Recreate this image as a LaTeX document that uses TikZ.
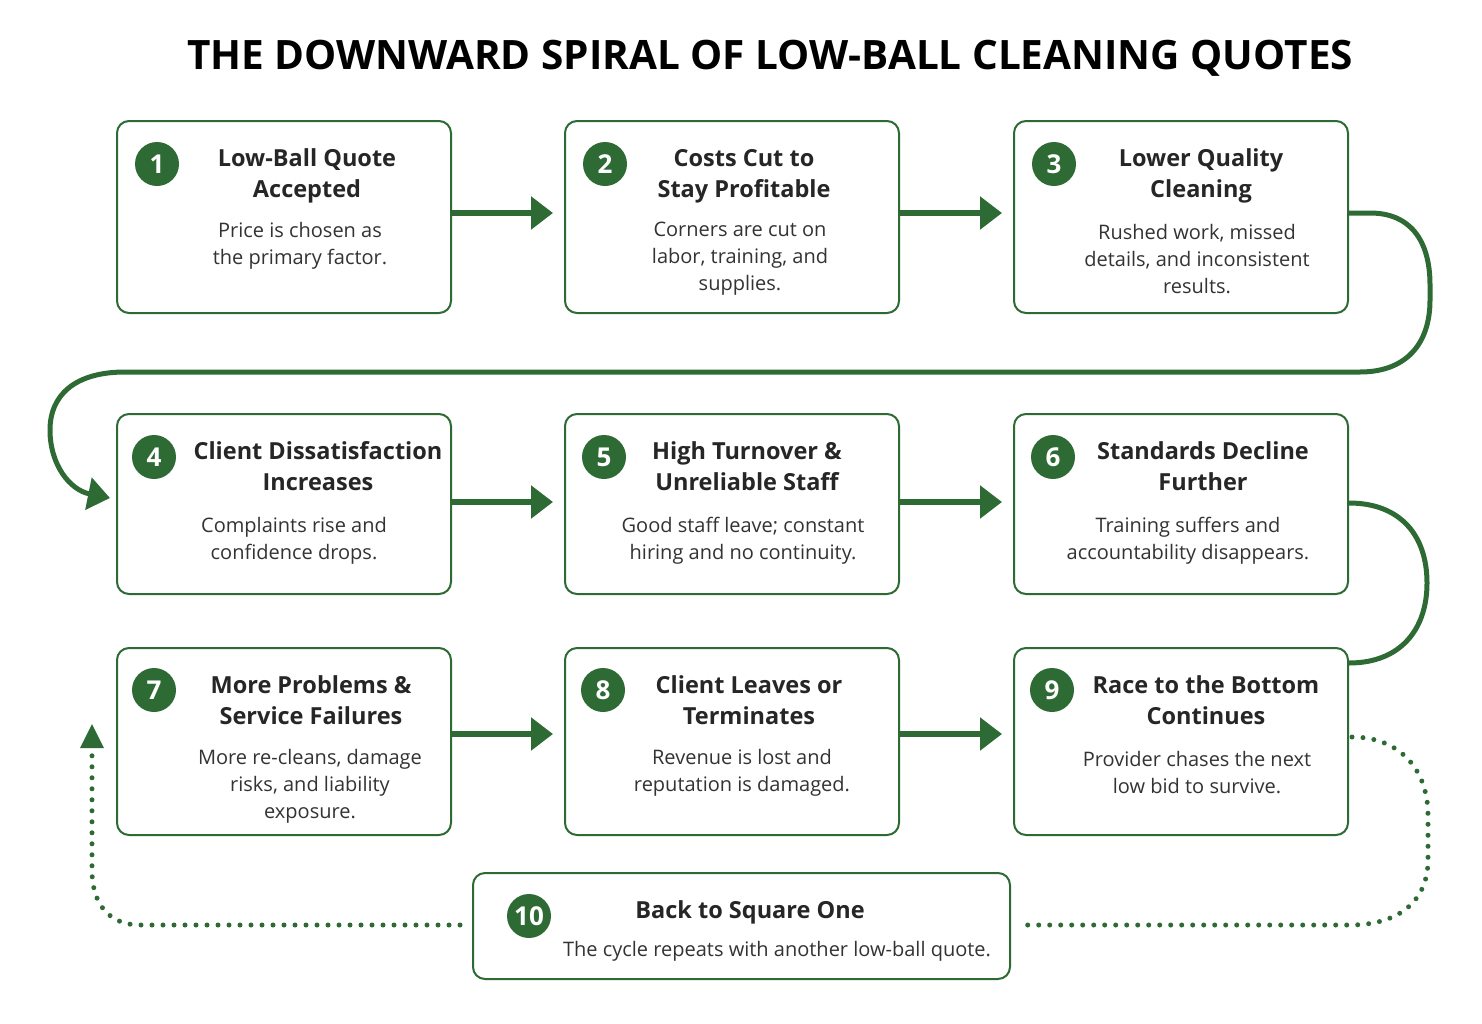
\documentclass[tikz,border=0pt]{standalone}
\usepackage{fontspec}
\setmainfont{Open Sans}
\usetikzlibrary{arrows.meta}
\definecolor{g}{HTML}{2E6B34}
\begin{document}
\begin{tikzpicture}[x=1pt,y=-1pt,
 box/.style={draw=g,line width=2pt,rounded corners=12pt,fill=white},
 num/.style={circle,fill=g,minimum size=44pt,inner sep=0pt,text=white,font=\fontsize{26}{26}\selectfont\bfseries},
 hd/.style={align=center,font=\fontsize{23.5}{31}\selectfont\bfseries,text=black!85},
 bd/.style={align=center,font=\fontsize{20}{27}\selectfont,text=black!80},
 arr/.style={g,line width=6pt,-{Triangle[length=22pt,width=32pt]}},
 lnk/.style={g,line width=5pt},
 dot/.style={g,line width=5pt,line cap=round,dash pattern=on 0pt off 11pt}]
\useasboundingbox (0,0) rectangle (1482,1023);
\node[font=\fontsize{40.5}{40}\selectfont\bfseries] (t) at (770,58) {THE DOWNWARD SPIRAL OF LOW-BALL CLEANING QUOTES};
% boxes
\foreach \n/\x/\y/\h in {1/117/121/192,2/565/121/192,3/1014/121/192,4/117/414/180,5/565/414/180,6/1014/414/180,7/117/648/187,8/565/648/187,9/1014/648/187}
  \draw[box] (\x,\y) rectangle ++(334,\h) coordinate (c\n);
\coordinate (b1e) at (452,213); \coordinate (b2w) at (553,213);
\coordinate (b2e) at (900,213); \coordinate (b3w) at (1002,213);
\coordinate (b4e) at (452,502); \coordinate (b5w) at (553,502);
\coordinate (b5e) at (900,502); \coordinate (b6w) at (1002,502);
\coordinate (b7e) at (452,734); \coordinate (b8w) at (553,734);
\coordinate (b8e) at (900,734); \coordinate (b9w) at (1002,734);
\draw[box] (473,873) rectangle (1010,979);
\draw[arr] (b1e) -- (b2w); \draw[arr] (b2e) -- (b3w);
\draw[arr] (b4e) -- (b5w); \draw[arr] (b5e) -- (b6w);
\draw[arr] (b7e) -- (b8w); \draw[arr] (b8e) -- (b9w);
% connectors
\coordinate (b3e) at (1349,213); \coordinate (b4w) at (110,498);
\draw[lnk,-{Triangle[length=22pt,width=32pt]}] (b3e) -- (1370,213) .. controls (1410,213) and (1430,240) .. (1430,285) -- (1430,300) .. controls (1430,345) and (1405,372) .. (1360,372) -- (125,372) .. controls (75,372) and (50,395) .. (50,430) .. controls (50,465) and (70,490) .. (b4w);
\coordinate (b6e) at (1349,503); \coordinate (b9n) at (1349,663);
\draw[lnk] (b6e) .. controls (1400,503) and (1427,535) .. (1427,583) .. controls (1427,630) and (1400,663) .. (b9n);
\coordinate (b9e) at (1352,737); \coordinate (b10e) at (1022,925);
\coordinate (b10w) at (460,925); \coordinate (b7w) at (92,748);
\draw[dot] (b9e) .. controls (1400,737) and (1428,770) .. (1428,815) -- (1428,860) .. controls (1428,900) and (1400,925) .. (1350,925) -- (b10e);
\draw[dot] (b10w) -- (140,925) .. controls (110,925) and (92,905) .. (92,870) -- (b7w);
\fill[g] (80,748) -- (104,748) -- (92,724) -- cycle;
% numbers
\foreach \n/\x/\y in {1/157/164,2/605/164,3/1054/164,4/154/457,5/604/457,6/1053/457,7/154/690,8/603/690,9/1052/690,10/529/916}
  \node[num] (n\n) at (\x,\y) {\n};
% texts
\node[hd] (h1) at (307,176) {Low-Ball Quote\\Accepted};
\node[bd] (d1) at (300,246) {Price is chosen as\\the primary factor.};
\node[hd] (h2) at (744,176) {Costs Cut to\\Stay Profitable};
\node[bd] (d2) at (740,259) {Corners are cut on\\labor, training, and\\supplies.};
\node[hd] (h3) at (1201,176) {Lower Quality\\Cleaning};
\node[bd] (d3) at (1197,259) {Rushed work, missed\\details, and inconsistent\\results.};
\node[hd] (h4) at (318,466) {Client Dissatisfaction\\Increases};
\node[bd] (d4) at (294,541) {Complaints rise and\\confidence drops.};
\node[hd] (h5) at (747,466) {High Turnover \&\\Unreliable Staff};
\node[bd] (d5) at (743,541) {Good staff leave; constant\\hiring and no continuity.};
\node[hd] (h6) at (1203,466) {Standards Decline\\Further};
\node[bd] (d6) at (1188,541) {Training suffers and\\accountability disappears.};
\node[hd] (h7) at (311,700) {More Problems \&\\Service Failures};
\node[bd] (d7) at (310,786) {More re-cleans, damage\\risks, and liability\\exposure.};
\node[hd] (h8) at (749,700) {Client Leaves or\\Terminates};
\node[bd] (d8) at (742,773) {Revenue is lost and\\reputation is damaged.};
\node[hd] (h9) at (1206,700) {Race to the Bottom\\Continues};
\node[bd] (d9) at (1197,773) {Provider chases the next\\low bid to survive.};
\node[hd] (h10) at (750,912) {Back to Square One};
\node[bd] (d10) at (777,951) {The cycle repeats with another low-ball quote.};
\end{tikzpicture}
\end{document}
